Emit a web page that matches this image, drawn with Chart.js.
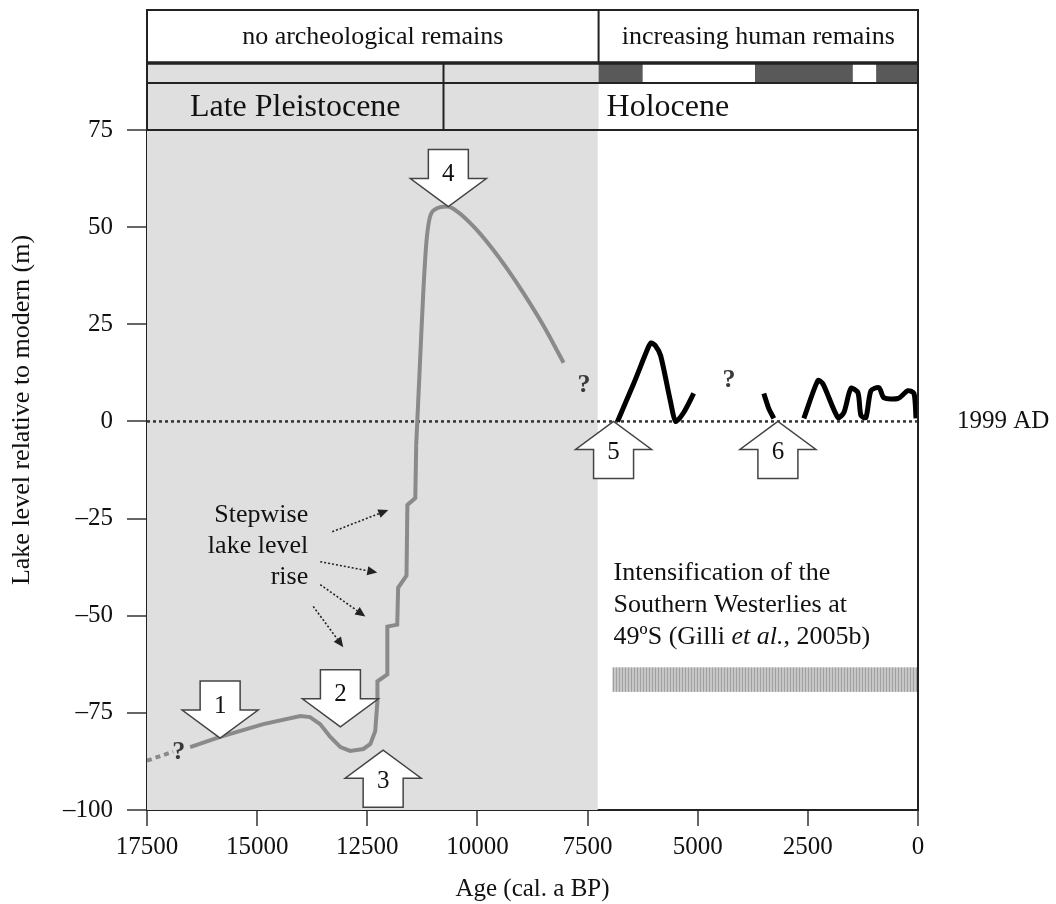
<!DOCTYPE html>
<html>
<head>
<meta charset="utf-8">
<script src="https://cdn.jsdelivr.net/npm/chart.js@4.4.0/dist/chart.umd.min.js"></script>
<style>
  html, body { margin: 0; padding: 0; background: #fff; }
  #wrap { width: 1056px; height: 904px; }
</style>
</head>
<body>
<div id="wrap"><canvas id="lakeChart"></canvas></div>
<script>
// Lake level reconstruction, ages in cal. a BP, levels in m relative to 1999 AD.
var AGE_MIN = 0, AGE_MAX = 17500, AGE_STEP = 2500;
var LEVEL_MIN = -100, LEVEL_MAX = 75, LEVEL_STEP = 25;

// late glacial curve (grey): slow rise, dip, then stepwise rise
var glacialAge = [17500, 16910, 16700, 16520, 15840, 14860, 14020, 13800, 13570, 13340, 13110, 12890,
    12590, 12430, 12320, 12270, 12270, 12045, 12045, 11820, 11800, 11610, 11590, 11410, 11390];
var glacialLevel = [-87.3, -85.0, null, -83.8, -81.2, -77.9, -75.8, -76.1, -77.9, -81.2, -83.8, -84.8,
    -84.3, -83.0, -79.7, -72.0, -66.9, -65.1, -52.8, -52.3, -42.8, -39.7, -21.5, -19.7, -6.1];
// highstand and fall (grey)
var highAge = [11390, 11300, 11230, 11160, 11090, 10955, 10680, 10455, 10090, 9705, 9320, 8955, 8500, 8045];
var highLevel = [-6.1, 16.1, 33.0, 45.9, 52.0, 54.6, 55.3, 54.0, 50.2, 45.1, 39.2, 33.0, 24.6, 15.1];

// mid / late Holocene stands (black)
var midAge = [6820, 6455, 6136, 6060, 5960, 5841, 5614, 5500, 5318, 5091];
var midLevel = [0, 9.7, 18.7, 20.2, 19.5, 16.9, 4.9, 0, 2.3, 7.2];
var stepAge = [3500, 3386, 3273];
var stepLevel = [7.2, 3.3, 0.8];
var lateAge = [2591, 2273, 2159, 1818, 1682, 1523, 1364, 1295, 1182, 1068, 886, 773, 455, 227, 91, 45];
var lateLevel = [0.8, 10.5, 9.7, 1.0, 2.3, 8.5, 7.4, 1.5, 1.0, 7.9, 8.7, 6.1, 5.9, 7.9, 7.2, 0.8];

// numbered events (arrow tip positions)
var eventLabels = ['1', '2', '3', '4', '5', '6'];
var eventAge = [15840, 13110, 12140, 10660, 6910, 3180];
var eventLevel = [-81.5, -78.6, -84.6, 55.3, 0, 0];
var eventDir = ['down', 'down', 'up', 'down', 'up', 'up'];

// stepwise rise pointers: from (age, level) to (age, level)
var stepFromAge = [13295, 13568, 13568, 13727];
var stepFromLevel = [-28.4, -36.1, -42.0, -47.6];
var stepToAge = [12023, 12273, 12545, 13045];
var stepToLevel = [-22.8, -38.9, -50.2, -58.1];

// uncertain intervals
var queryAge = [16780, 7580, 4290];
var queryLevel = [-85.2, 9.3, 10.5];

// westerlies intensification bar
var westerliesAge = [6930, 50];
var westerliesLevel = [-63.3, -69.6];

// header bands
var pleistoceneEnd = 7270;       // grey background ends here
var periodBoundary = 10770;      // Late Pleistocene | Holocene
var evidenceBoundary = 7250;     // no remains | increasing remains
var occupationBreaks = [7250, 6250, 3700, 1480, 950, 0];
var occupationKind = ['present', 'absent', 'present', 'absent', 'present'];

var FONT = '"Liberation Serif", "Times New Roman", serif';
var SHADE = '#dfdfdf';

function toXY(ages, levels) {
    return ages.map(function (a, i) { return { x: a, y: levels[i] }; });
}

var overlayPlugin = {
    id: 'overlay',
    beforeDatasetsDraw: function (chart) {
        var ctx = chart.ctx, a = chart.chartArea, x = chart.scales.x;
        ctx.save();
        ctx.fillStyle = SHADE;
        ctx.fillRect(a.left, a.top, x.getPixelForValue(pleistoceneEnd) - a.left, a.bottom - a.top);
        ctx.restore();
    },
    afterDatasetsDraw: function (chart) {
        var ctx = chart.ctx, a = chart.chartArea, xs = chart.scales.x, ys = chart.scales.y;
        ctx.save();

        // westerlies bar
        var bx0 = xs.getPixelForValue(westerliesAge[0]), bx1 = xs.getPixelForValue(westerliesAge[1]);
        var by0 = ys.getPixelForValue(westerliesLevel[0]), by1 = ys.getPixelForValue(westerliesLevel[1]);
        ctx.fillStyle = '#d8d8d8';
        ctx.fillRect(bx0, by0, bx1 - bx0, by1 - by0);
        ctx.fillStyle = '#a0a0a0';
        for (var hx = bx0; hx < bx1; hx += 3) {
            ctx.fillRect(hx, by0, 1.6, by1 - by0);
        }

        // event arrows
        var L = 57, HL = 28, HW = 76, SW = 40;
        ctx.lineWidth = 1.5;
        ctx.strokeStyle = '#444';
        eventLabels.forEach(function (lab, i) {
            var tx = xs.getPixelForValue(eventAge[i]), ty = ys.getPixelForValue(eventLevel[i]);
            var s = eventDir[i] === 'down' ? -1 : 1;
            ctx.beginPath();
            ctx.moveTo(tx, ty);
            ctx.lineTo(tx - HW / 2, ty + s * HL);
            ctx.lineTo(tx - SW / 2, ty + s * HL);
            ctx.lineTo(tx - SW / 2, ty + s * L);
            ctx.lineTo(tx + SW / 2, ty + s * L);
            ctx.lineTo(tx + SW / 2, ty + s * HL);
            ctx.lineTo(tx + HW / 2, ty + s * HL);
            ctx.closePath();
            ctx.fillStyle = '#fff';
            ctx.fill();
            ctx.stroke();
            ctx.fillStyle = '#111';
            ctx.font = '25px ' + FONT;
            ctx.textAlign = 'center';
            ctx.textBaseline = 'middle';
            ctx.fillText(lab, tx, ty + s * (HL + (s < 0 ? 4 : 3)));
        });

        // stepwise pointers
        ctx.strokeStyle = '#222';
        ctx.fillStyle = '#222';
        ctx.lineWidth = 1.6;
        stepFromAge.forEach(function (fa, i) {
            var x0 = xs.getPixelForValue(fa), y0 = ys.getPixelForValue(stepFromLevel[i]);
            var x1 = xs.getPixelForValue(stepToAge[i]), y1 = ys.getPixelForValue(stepToLevel[i]);
            var ang = Math.atan2(y1 - y0, x1 - x0), h = 10;
            var ex = x1 - Math.cos(ang) * h, ey = y1 - Math.sin(ang) * h;
            ctx.setLineDash([2, 2]);
            ctx.beginPath();
            ctx.moveTo(x0, y0);
            ctx.lineTo(ex, ey);
            ctx.stroke();
            ctx.setLineDash([]);
            ctx.beginPath();
            ctx.moveTo(x1, y1);
            ctx.lineTo(ex + Math.sin(ang) * 4.5, ey - Math.cos(ang) * 4.5);
            ctx.lineTo(ex - Math.sin(ang) * 4.5, ey + Math.cos(ang) * 4.5);
            ctx.closePath();
            ctx.fill();
        });

        // question marks
        ctx.fillStyle = '#3a3a3a';
        ctx.font = 'bold 26px ' + FONT;
        ctx.textAlign = 'center';
        ctx.textBaseline = 'middle';
        queryAge.forEach(function (qa, i) {
            ctx.fillText('?', xs.getPixelForValue(qa), ys.getPixelForValue(queryLevel[i]));
        });

        // text notes
        ctx.fillStyle = '#111';
        ctx.font = '26px ' + FONT;
        ctx.textAlign = 'right';
        var sx = xs.getPixelForValue(13841), sy = ys.getPixelForValue(-24.1);
        ['Stepwise', 'lake level', 'rise'].forEach(function (t, i) {
            ctx.fillText(t, sx, sy + i * 31);
        });

        ctx.textAlign = 'left';
        var ix = xs.getPixelForValue(6909), iy = ys.getPixelForValue(-39.0);
        ctx.fillText('Intensification of the', ix, iy);
        ctx.fillText('Southern Westerlies at', ix, iy + 32);
        var l3 = '49\u00baS (Gilli ';
        ctx.fillText(l3, ix, iy + 64);
        var w = ctx.measureText(l3).width;
        ctx.font = 'italic 26px ' + FONT;
        ctx.fillText('et al.', ix + w, iy + 64);
        w += ctx.measureText('et al.').width;
        ctx.font = '26px ' + FONT;
        ctx.fillText(', 2005b)', ix + w, iy + 64);

        // 1999 AD reference
        ctx.font = '25px ' + FONT;
        ctx.fillText('1999 AD', a.right + 39, ys.getPixelForValue(0));

        // right frame
        ctx.strokeStyle = '#222';
        ctx.lineWidth = 2;
        ctx.beginPath();
        ctx.moveTo(a.right, a.top);
        ctx.lineTo(a.right, a.bottom);
        ctx.stroke();
        ctx.restore();
    },
    afterDraw: function (chart) {
        var ctx = chart.ctx, a = chart.chartArea, xs = chart.scales.x;
        var L = a.left, R = a.right, y0 = 10, y1 = 63, y2 = 83, y3 = a.top;
        var xEv = xs.getPixelForValue(evidenceBoundary);
        var xPer = xs.getPixelForValue(periodBoundary);
        ctx.save();
        ctx.fillStyle = '#fff';
        ctx.fillRect(L, y0, R - L, y3 - y0);
        ctx.fillStyle = SHADE;
        ctx.fillRect(L, y1, xEv - L, y3 - y1);
        ctx.fillStyle = '#595959';
        for (var i = 0; i < occupationKind.length; i++) {
            if (occupationKind[i] !== 'present') continue;
            var p0 = xs.getPixelForValue(occupationBreaks[i]);
            var p1 = xs.getPixelForValue(occupationBreaks[i + 1]);
            ctx.fillRect(p0, y1, p1 - p0, y2 - y1);
        }
        ctx.strokeStyle = '#222';
        ctx.lineWidth = 2;
        ctx.strokeRect(L, y0, R - L, y3 - y0);
        ctx.beginPath();
        ctx.moveTo(L, y2); ctx.lineTo(R, y2);
        ctx.moveTo(xEv, y0); ctx.lineTo(xEv, y1);
        ctx.moveTo(xPer, y1); ctx.lineTo(xPer, y3);
        ctx.stroke();
        ctx.lineWidth = 3.5;
        ctx.beginPath();
        ctx.moveTo(L, y1); ctx.lineTo(R, y1);
        ctx.stroke();

        ctx.fillStyle = '#111';
        ctx.textBaseline = 'middle';
        ctx.textAlign = 'center';
        ctx.font = '26px ' + FONT;
        ctx.fillText('no archeological remains', (L + xEv) / 2, (y0 + y1) / 2 + 1);
        ctx.fillText('increasing human remains', (xEv + R) / 2, (y0 + y1) / 2 + 1);
        ctx.font = '32px ' + FONT;
        ctx.fillText('Late Pleistocene', (L + xPer) / 2, (y2 + y3) / 2 + 1);
        ctx.textAlign = 'left';
        ctx.fillText('Holocene', xEv + 8, (y2 + y3) / 2 + 1);

        // y axis title, centred on the whole framed figure (header + plot)
        ctx.translate(22, (y0 + a.bottom) / 2);
        ctx.rotate(-Math.PI / 2);
        ctx.textAlign = 'center';
        ctx.font = '26px ' + FONT;
        ctx.fillText('Lake level relative to modern (m)', 0, 0);
        ctx.restore();
    }
};

var ctx = document.getElementById('lakeChart').getContext('2d');
new Chart(ctx, {
    type: 'line',
    data: {
        datasets: [{
            label: 'modern level',
            data: [{ x: AGE_MAX, y: 0 }, { x: AGE_MIN, y: 0 }],
            borderColor: '#333',
            borderWidth: 2.5,
            borderDash: [3, 3],
            pointRadius: 0,
            order: 4
        }, {
            label: 'late glacial',
            data: toXY(glacialAge, glacialLevel),
            borderColor: '#8a8a8a',
            borderWidth: 4,
            pointRadius: 0,
            tension: 0,
            spanGaps: false,
            segment: {
                borderDash: function (c) { return c.p0DataIndex === 0 ? [5, 4] : undefined; }
            },
            order: 3
        }, {
            label: 'highstand',
            data: toXY(highAge, highLevel),
            borderColor: '#8a8a8a',
            borderWidth: 4,
            pointRadius: 0,
            cubicInterpolationMode: 'monotone',
            order: 3
        }, {
            label: 'mid Holocene',
            data: toXY(midAge, midLevel),
            borderColor: '#000',
            borderWidth: 5,
            pointRadius: 0,
            tension: 0.25,
            order: 2
        }, {
            label: 'step',
            data: toXY(stepAge, stepLevel),
            borderColor: '#000',
            borderWidth: 5,
            pointRadius: 0,
            tension: 0.2,
            order: 2
        }, {
            label: 'late Holocene',
            data: toXY(lateAge, lateLevel),
            borderColor: '#000',
            borderWidth: 5,
            pointRadius: 0,
            tension: 0.25,
            order: 2
        }]
    },
    options: {
        responsive: true,
        maintainAspectRatio: false,
        animation: false,
        layout: { padding: { top: 130, right: 138, bottom: 0, left: 0 } },
        plugins: { legend: { display: false }, tooltip: { enabled: false } },
        scales: {
            x: {
                type: 'linear',
                reverse: true,
                min: AGE_MIN,
                max: AGE_MAX,
                afterFit: function (s) { s.height = 94; },
                ticks: {
                    stepSize: AGE_STEP,
                    color: '#111',
                    padding: 6,
                    maxRotation: 0,
                    font: { family: FONT, size: 25 },
                    callback: function (v) { return String(v); }
                },
                grid: { drawOnChartArea: false, tickLength: 16, color: '#666', lineWidth: 2 },
                border: { display: true, color: '#222', width: 2 },
                title: {
                    display: true,
                    text: 'Age (cal. a BP)',
                    color: '#111',
                    font: { family: FONT, size: 25 },
                    padding: { top: 0, bottom: 0 }
                }
            },
            y: {
                min: LEVEL_MIN,
                max: LEVEL_MAX,
                afterFit: function (s) { s.width = 147; },
                ticks: {
                    stepSize: LEVEL_STEP,
                    color: '#111',
                    padding: 14,
                    font: { family: FONT, size: 25 },
                    callback: function (v) { return v < 0 ? '\u2013' + Math.abs(v) : String(v); }
                },
                grid: { drawOnChartArea: false, tickLength: 20, color: '#666', lineWidth: 2 },
                border: { display: true, color: '#222', width: 2 },
                title: { display: false }
            }
        }
    },
    plugins: [overlayPlugin]
});
</script>
</body>
</html>
